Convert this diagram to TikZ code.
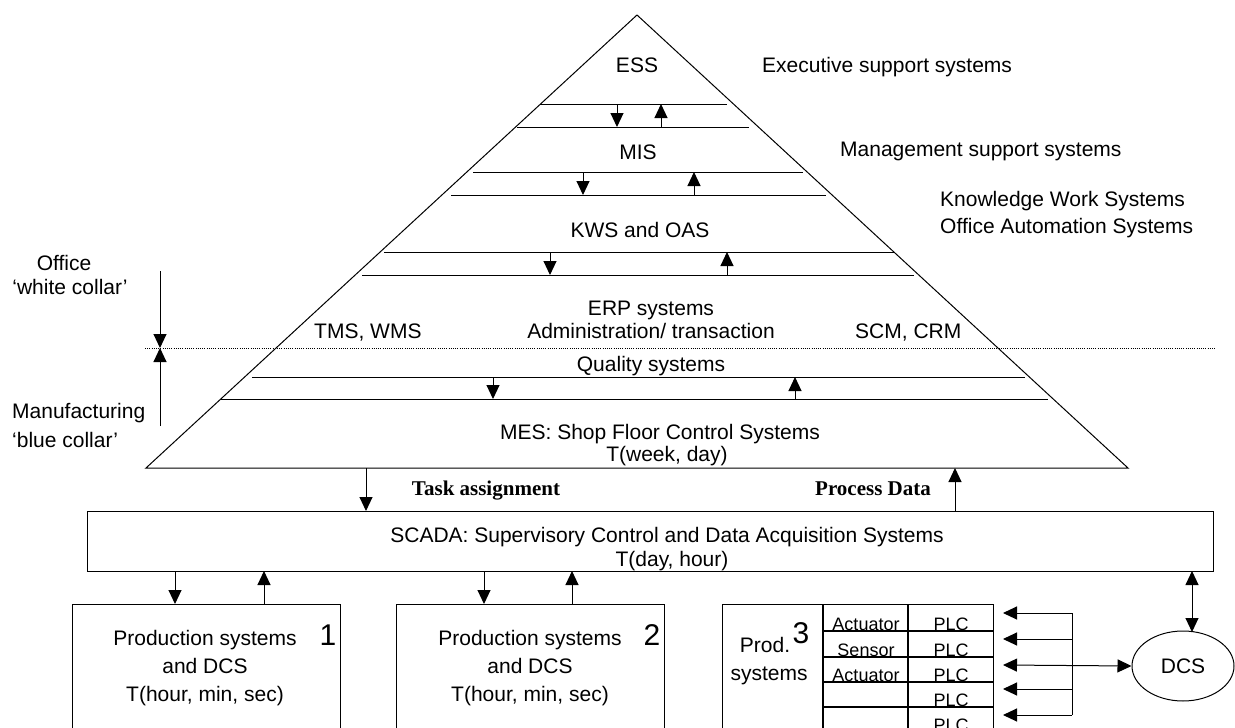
\documentclass[tikz,border=0pt]{standalone}
\usepackage{fontspec}
\setmainfont{Liberation Sans}
\newfontfamily\tnr{Liberation Serif}
\usetikzlibrary{arrows.meta,shapes.geometric}
\begin{document}
\begin{tikzpicture}[x=1pt,y=-1pt,
  ln/.style={line width=1pt},
  arr/.style={line width=1pt,-{Triangle[length=14pt,width=13pt]}},
  darr/.style={line width=1pt,{Triangle[length=14pt,width=13pt]}-{Triangle[length=14pt,width=13pt]}},
  txt/.style={anchor=base,inner sep=0pt,font=\fontsize{21}{25}\selectfont},
  ltxt/.style={txt,anchor=base west},
  smalltxt/.style={anchor=base,inner sep=0pt,font=\fontsize{18}{21}\selectfont},
  numtxt/.style={anchor=base,inner sep=0pt,font=\fontsize{30}{34}\selectfont},
  boldtxt/.style={anchor=base,inner sep=0pt,font=\tnr\bfseries\fontsize{21}{25}\selectfont},
  boxst/.style={draw,line width=1.2pt,anchor=north west,inner sep=0pt}]
\useasboundingbox (0,0) rectangle (1235,728);
\clip (0,0) rectangle (1235,728);

% pyramid
\coordinate (apex) at (637,15);
\coordinate (bl) at (146,468);
\coordinate (br) at (1128,468);
\draw[ln] (bl) -- (apex) -- (br) -- cycle;

% layer lines
\draw[ln] (540,104) -- (727,104);
\draw[ln] (517,127) -- (749,127);
\draw[ln] (473,172) -- (803,172);
\draw[ln] (451,195) -- (826,195);
\draw[ln] (384,252) -- (894,252);
\draw[ln] (362,275) -- (914,275);
\draw[ln] (252,377) -- (1025,377);
\draw[ln] (220,399) -- (1048,399);

% layer arrows
\coordinate (a1t) at (617,104); \coordinate (a1b) at (617,127);
\coordinate (b1t) at (661,104); \coordinate (b1b) at (661,127);
\coordinate (a2t) at (583,172); \coordinate (a2b) at (583,195);
\coordinate (b2t) at (694,172); \coordinate (b2b) at (694,195);
\coordinate (a3t) at (550,252); \coordinate (a3b) at (550,275);
\coordinate (b3t) at (727,252); \coordinate (b3b) at (727,275);
\coordinate (a4t) at (493,377); \coordinate (a4b) at (493,399);
\coordinate (b4t) at (795,377); \coordinate (b4b) at (795,399);
\draw[arr] (a1t) -- (a1b); \draw[arr] (b1b) -- (b1t);
\draw[arr] (a2t) -- (a2b); \draw[arr] (b2b) -- (b2t);
\draw[arr] (a3t) -- (a3b); \draw[arr] (b3b) -- (b3t);
\draw[arr] (a4t) -- (a4b); \draw[arr] (b4b) -- (b4t);

% dotted divider
\draw[line width=0.8pt,dash pattern=on 1pt off 1.2pt] (145,348) -- (1215,348);
\coordinate (wcT) at (160,271); \coordinate (div) at (160,348); \coordinate (bcB) at (160,426);
\draw[arr] (wcT) -- (div);
\draw[arr] (bcB) -- (div);

% pyramid texts
\node[txt] (ess) at (637,72) {ESS};
\node[txt] (mis) at (638,159) {MIS};
\node[txt] (kws) at (640,237) {KWS and OAS};
\node[txt] (erp) at (651,315) {ERP systems};
\node[txt] (adm) at (651,338) {Administration/ transaction};
\node[ltxt] (tms) at (314,338) {TMS, WMS};
\node[ltxt] (scm) at (855,338) {SCM, CRM};
\node[txt] (qual) at (651,371) {Quality systems};
\node[txt] (mes) at (660,439) {MES: Shop Floor Control Systems};
\node[txt] (mest) at (667,461) {T(week, day)};

% right labels
\node[ltxt] (exe) at (762,72) {Executive support systems};
\node[ltxt] (mgt) at (840,156) {Management support systems};
\node[ltxt] (kwsl) at (940,206) {Knowledge Work Systems};
\node[ltxt] (oasl) at (940,233) {Office Automation Systems};

% left labels
\node[txt] (off) at (64,270) {Office};
\node[txt] (wc) at (70,294) {‘white collar’};
\node[ltxt] (man) at (12,418) {Manufacturing};
\node[ltxt] (bc) at (12,447) {‘blue collar’};

% SCADA
\node[boxst,minimum width=1126pt,minimum height=60pt] (scada) at (87,511) {};
\node[txt] (scadat) at (667,542) {SCADA: Supervisory Control and Data Acquisition Systems};
\node[txt] (scadat2) at (672,566) {T(day, hour)};
\coordinate (taT) at (366,468); \coordinate (taB) at (366,511);
\coordinate (pdT) at (955,468); \coordinate (pdB) at (955,511);
\draw[arr] (taT) -- (taB);
\draw[arr] (pdB) -- (pdT);
\node[boldtxt] (task) at (486,495) {Task assignment};
\node[boldtxt] (proc) at (873,495) {Process Data};

% production box 1
\node[boxst,minimum width=268pt,minimum height=140pt] (p1) at (72,604) {};
\node[txt] (p1a) at (205,645) {Production systems};
\node[txt] (p1b) at (205,673) {and DCS};
\node[txt] (p1c) at (205,701) {T(hour, min, sec)};
\node[numtxt] (n1) at (328,645) {1};
\coordinate (p1dT) at (175,571); \coordinate (p1dB) at (175,604);
\coordinate (p1uT) at (264,571); \coordinate (p1uB) at (264,604);
\draw[arr] (p1dT) -- (p1dB);
\draw[arr] (p1uB) -- (p1uT);

% production box 2
\node[boxst,minimum width=268pt,minimum height=140pt] (p2) at (396,604) {};
\node[txt] (p2a) at (530,645) {Production systems};
\node[txt] (p2b) at (530,673) {and DCS};
\node[txt] (p2c) at (530,701) {T(hour, min, sec)};
\node[numtxt] (n2) at (652,645) {2};
\coordinate (p2dT) at (484,571); \coordinate (p2dB) at (484,604);
\coordinate (p2uT) at (572,571); \coordinate (p2uB) at (572,604);
\draw[arr] (p2dT) -- (p2dB);
\draw[arr] (p2uB) -- (p2uT);

% production box 3
\node[boxst,minimum width=271pt,minimum height=140pt] (p3) at (722,604) {};
\draw[line width=1.2pt] (823,604) -- (823,744);
\draw[line width=1.2pt] (908,604) -- (908,744);
\foreach \yy in {631,657,682,707,732} \draw[line width=1.2pt] (823,\yy) -- (993,\yy);
\node[txt] (prod) at (765,652) {Prod.};
\node[txt] (sys) at (769,680) {systems};
\node[numtxt] (n3) at (801,643) {3};
\node[smalltxt] (act1) at (866,630) {Actuator};
\node[smalltxt] (sen) at (866,656) {Sensor};
\node[smalltxt] (act2) at (866,681) {Actuator};
\node[smalltxt] (plc1) at (951,630) {PLC};
\node[smalltxt] (plc2) at (951,656) {PLC};
\node[smalltxt] (plc3) at (951,681) {PLC};
\node[smalltxt] (plc4) at (951,706) {PLC};
\node[smalltxt] (plc5) at (951,731) {PLC};

% DCS
\node[draw,ellipse,line width=1pt,minimum width=102pt,minimum height=70pt,inner sep=0pt,font=\fontsize{21}{25}\selectfont] (dcs) at (1183,666) {DCS};
\coordinate (dcsT) at (1192,571); \coordinate (dcsB) at (1192,632);
\draw[darr] (dcsT) -- (dcsB);

% bus
\coordinate (busT) at (1072,613); \coordinate (busB) at (1072,715);
\draw[ln] (busT) -- (busB);
\foreach \yy/\nm in {613/r1,639/r2,689/r4,715/r5} {
  \coordinate (\nm s) at (1072,\yy); \coordinate (\nm e) at (1003,\yy);
  \draw[arr] (\nm s) -- (\nm e);
}
\coordinate (r3e) at (1003,665);
\draw[darr] (r3e) -- (dcs.west);
\end{tikzpicture}
\end{document}
